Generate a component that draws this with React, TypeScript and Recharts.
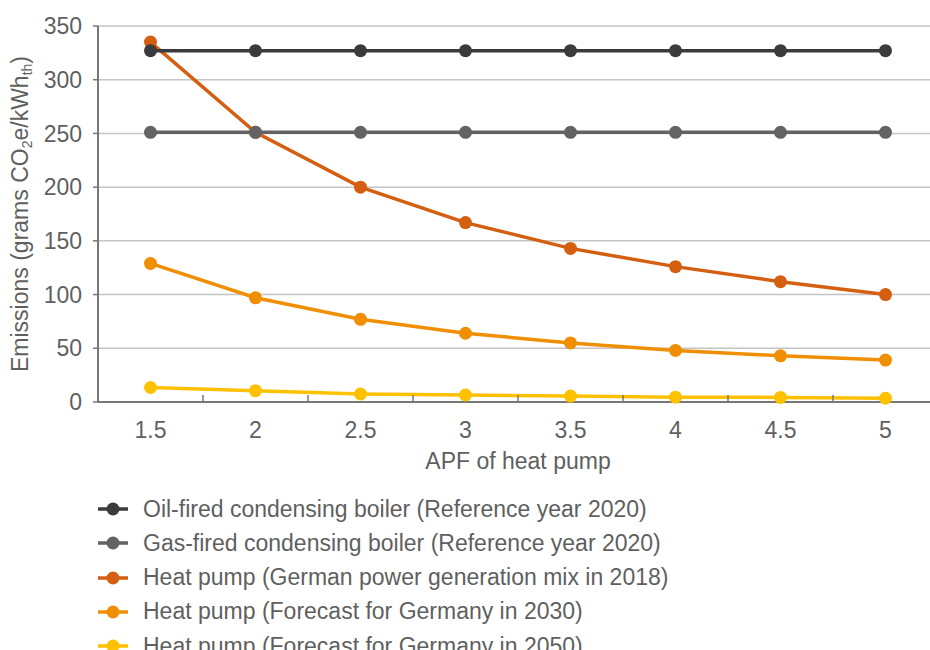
import React from "react";
import { LineChart, Line, XAxis, YAxis, CartesianGrid, Legend } from "recharts";

const apf = ["1.5", "2", "2.5", "3", "3.5", "4", "4.5", "5"];
const oil = [327, 327, 327, 327, 327, 327, 327, 327];
const gas = [251, 251, 251, 251, 251, 251, 251, 251];
const hp2018 = [335, 251, 200, 167, 143, 126, 112, 100];
const hp2030 = [129, 97, 77, 64, 55, 48, 43, 39];
const hp2050 = [13.5, 10.5, 7.5, 6.5, 5.5, 4.5, 4.3, 3.5];
const yTicks = [0, 50, 100, 150, 200, 250, 300, 350];

const seriesDefs = [
  { key: "oil", name: "Oil-fired condensing boiler (Reference year 2020)", color: "#3b3b3d", values: oil },
  { key: "gas", name: "Gas-fired condensing boiler (Reference year 2020)", color: "#636365", values: gas },
  { key: "hp2018", name: "Heat pump (German power generation mix in 2018)", color: "#d45f10", values: hp2018 },
  { key: "hp2030", name: "Heat pump (Forecast for Germany in 2030)", color: "#f08f04", values: hp2030 },
  { key: "hp2050", name: "Heat pump (Forecast for Germany in 2050)", color: "#fdc100", values: hp2050 },
];

const data = apf.map((x, i) => {
  const row: Record<string, any> = { apf: x };
  seriesDefs.forEach((s) => (row[s.key] = s.values[i]));
  return row;
});

const FONT = "'Liberation Sans', Arial, Helvetica, sans-serif";
const TEXT = "#5f5f5f";
const FS = 23;

const XTick = (props: any) => {
  const { x, y, payload, index } = props;
  const off = payload && typeof payload.offset === "number" ? payload.offset : 0;
  return (
    <g>
      {index > 0 && (
        <line x1={x - off} x2={x - off} y1={y - 7} y2={y} stroke="#777" strokeWidth={1.5} />
      )}
      <text x={x} y={y + 36} textAnchor="middle" fill={TEXT} fontSize={FS} fontFamily={FONT}>
        {payload.value}
      </text>
    </g>
  );
};

const YLabel = () => (
  <text
    transform="translate(28, 214) rotate(-90)"
    textAnchor="middle"
    fill={TEXT}
    fontSize={FS}
    fontFamily={FONT}
  >
    <tspan>Emissions (grams CO</tspan>
    <tspan fontSize={14} dy={4}>2</tspan>
    <tspan dy={-4}>e/kWh</tspan>
    <tspan fontSize={14} dy={4}>th</tspan>
    <tspan dy={-4}>)</tspan>
  </text>
);

const LegendContent = (props: any) => {
  const payload = props.payload || [];
  const order = seriesDefs.map((s) => s.name);
  const items = [...payload].sort(
    (a: any, b: any) => order.indexOf(a.value) - order.indexOf(b.value)
  );
  return (
    <div style={{ height: 188, position: "relative", overflow: "visible" }}>
      {items.map((it: any, i: number) => (
        <div
          key={it.value}
          style={{
            position: "absolute",
            left: 97,
            top: 30 + i * 34.3,
            height: 34,
            display: "flex",
            alignItems: "center",
            whiteSpace: "nowrap",
          }}
        >
          <svg width={32} height={16} style={{ marginRight: 14 }}>
            <line x1={1} x2={31} y1={8} y2={8} stroke={it.color} strokeWidth={3.5} />
            <circle cx={16} cy={8} r={6.5} fill={it.color} />
          </svg>
          <span style={{ fontFamily: FONT, fontSize: FS, color: TEXT }}>{it.value}</span>
        </div>
      ))}
    </div>
  );
};

export default function App() {
  const renderOrder = [...seriesDefs].reverse();
  return (
    <div style={{ position: "absolute", left: 0, top: 0, width: 930, height: 650, overflow: "hidden", background: "#fff" }}>
      <LineChart
        width={938}
        height={650}
        data={data}
        margin={{ top: 26, right: 0, bottom: 0, left: 0 }}
      >
        <CartesianGrid vertical={false} stroke="#c4c4c4" strokeWidth={1.5} />
        <XAxis
          dataKey="apf"
          type="category"
          scale="band"
          height={60}
          tickLine={false}
          tickSize={0}
          tickMargin={0}
          axisLine={{ stroke: "#777", strokeWidth: 2 }}
          tick={<XTick />}
          interval={0}
          label={{
            value: "APF of heat pump",
            position: "insideBottom",
            offset: -7,
            fill: TEXT,
            fontSize: FS,
            fontFamily: FONT,
          }}
        />
        <YAxis
          type="number"
          domain={[0, 350]}
          ticks={yTicks}
          width={98}
          interval={0}
          tickSize={5}
          tickMargin={11}
          tickLine={{ stroke: "#777", strokeWidth: 1.5 }}
          axisLine={{ stroke: "#777", strokeWidth: 2 }}
          tick={{ fill: TEXT, fontSize: FS, fontFamily: FONT }}
          label={<YLabel />}
        />
        <Legend verticalAlign="bottom" layout="horizontal" content={<LegendContent />} />
        {renderOrder.map((s) => (
          <Line
            key={s.key}
            dataKey={s.key}
            name={s.name}
            stroke={s.color}
            strokeWidth={3.5}
            dot={{ r: 6.5, fill: s.color, stroke: "none" }}
            activeDot={false}
            isAnimationActive={false}
            legendType="circle"
          />
        ))}
      </LineChart>
    </div>
  );
}
